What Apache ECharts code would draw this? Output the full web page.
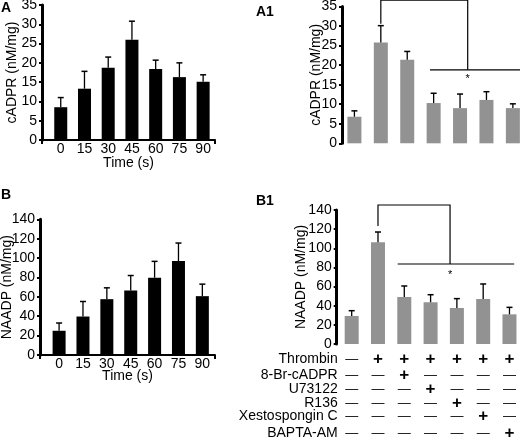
<!DOCTYPE html>
<html><head><meta charset="utf-8">
<script src="https://cdn.jsdelivr.net/npm/echarts@6/dist/echarts.min.js"></script>
<style>html,body{margin:0;padding:0;background:#fff}#c{width:520px;height:438px}</style>
</head><body><div id="c"></div>
<script>
// ---- data ----
const timeLabels = ['0','15','30','45','60','75','90'];
const cadprTime = [8.5, 13.3, 18.7, 26, 18.4, 16.3, 15.1];
const cadprTimeErr = [11, 17.8, 21.5, 30.8, 20.7, 20, 16.9];
const cadprTreat = [6.8, 25.8, 21.4, 10.3, 9.0, 11.1, 9.0];
const cadprTreatErr = [8.3, 30.1, 23.5, 12.8, 12.6, 13.2, 10.1];
const naadpTime = [25, 39.7, 57.6, 66.6, 79.7, 96.9, 60.7];
const naadpTimeErr = [33, 55.2, 69.3, 82, 96.6, 115.5, 73.1];
const naadpTreat = [29.3, 106.3, 49.1, 43.6, 37.6, 47, 31];
const naadpTreatErr = [34.8, 117, 60.6, 51.5, 47.4, 62.7, 38.3];
const treatmentNames = ['Thrombin','8-Br-cADPR','U73122','R136','Xestospongin C','BAPTA-AM'];
const treatmentMatrix = [
  [0,1,1,1,1,1,1],
  [0,0,1,0,0,0,0],
  [0,0,0,1,0,0,0],
  [0,0,0,0,1,0,0],
  [0,0,0,0,0,1,0],
  [0,0,0,0,0,0,1]
];
// significance brackets in data units [category index, value]
const cadprBracket = [[[1,30.6],[1,36.6],[4.29,36.6],[4.29,18.8]], [[2.86,18.8],[6.27,18.8]]];
const cadprStar = [4.29, 16.5];
const naadpBracket = [[[1,123.3],[1,145.2],[3.74,145.2],[3.74,83.6]], [[1.75,83.6],[6.18,83.6]]];
const naadpStar = [3.74, 72.4];

// ---- layout ----
const idx = [0,1,2,3,4,5,6];
const tableRowOffsets = [15, 31, 45, 59, 72.5, 89];
const FONT = 'Liberation Sans, Arial, sans-serif';
const GRAY = '#929292';

const chart = echarts.init(document.getElementById('c'), null, {renderer:'canvas'});

function yAx(g, max, interval, name, gap) {
  return {gridIndex:g, type:'value', min:0, max:max, interval:interval,
    axisLine:{show:true, onZero:false, lineStyle:{color:'#000', width:3}},
    axisTick:{show:true, length:3, lineStyle:{color:'#000', width:2}},
    axisLabel:{margin:5, fontSize:14, color:'#000', fontFamily:FONT},
    splitLine:{show:false},
    name:name, nameLocation:'middle', nameGap:gap, nameMoveOverlap:false,
    nameTextStyle:{fontSize:14, color:'#000', fontFamily:FONT}};
}
function timeX(g, min, max, gap) {
  return {gridIndex:g, type:'value', min:min, max:max,
    axisLine:{show:true, onZero:false, lineStyle:{color:'#000', width:2}},
    axisTick:{show:true, customValues:[min, max], length:4, lineStyle:{color:'#000', width:2}},
    axisLabel:{customValues:idx, margin:2, fontSize:14, color:'#000', fontFamily:FONT,
      formatter:v => timeLabels[Math.round(v)]},
    splitLine:{show:false},
    name:'Time (s)', nameLocation:'middle', nameGap:gap, nameMoveOverlap:false,
    nameTextStyle:{fontSize:14, color:'#000', fontFamily:FONT}};
}
function plainX(g, min, max) {
  return {gridIndex:g, type:'value', min:min, max:max, show:true,
    axisLine:{show:false, onZero:false}, axisTick:{show:false}, axisLabel:{show:false}, splitLine:{show:false}};
}
const tableAxes = treatmentNames.map((nm, r) => ({
  gridIndex:3, type:'value', min:-0.57, max:6.4, position:'bottom', offset:tableRowOffsets[r],
  axisLine:{show:false, onZero:false}, axisTick:{show:false}, splitLine:{show:false},
  axisLabel:{customValues:idx, margin:0, verticalAlign:'middle', hideOverlap:false,
    formatter:v => treatmentMatrix[r][Math.round(v)] ? '{p|+}' : '{m|—}',
    rich:{p:{fontSize:17, fontWeight:'bold', color:'#000', fontFamily:FONT},
          m:{fontSize:13, color:'#000', fontFamily:FONT}}},
  name:nm, nameLocation:'start', nameGap:-1, nameMoveOverlap:false,
  nameTextStyle:{fontSize:14, color:'#000', fontFamily:FONT, align:'right', verticalAlign:'middle'}
}));

function barSeries(xi, yi, vals, color, w) {
  return {type:'bar', xAxisIndex:xi, yAxisIndex:yi, barWidth:w,
    data:vals.map((v,i)=>[i,v]), itemStyle:{color:color}, z:2};
}
function errSeries(xi, yi, vals, errs) {
  return {type:'custom', xAxisIndex:xi, yAxisIndex:yi, clip:false, z:3,
    data:vals.map((v,i)=>[i,v,errs[i]]),
    renderItem:(p, api) => {
      const a = api.coord([api.value(0), api.value(1)]);
      const b = api.coord([api.value(0), api.value(2)]);
      return {type:'group', children:[
        {type:'line', shape:{x1:a[0], y1:a[1], x2:b[0], y2:b[1]}, style:{stroke:'#000', lineWidth:1.3}},
        {type:'line', shape:{x1:b[0]-3, y1:b[1], x2:b[0]+3, y2:b[1]}, style:{stroke:'#000', lineWidth:1.5}}
      ]};
    }};
}
function bracketSeries(xi, yi, lines, star) {
  return {type:'custom', xAxisIndex:xi, yAxisIndex:yi, clip:false, z:4,
    data:[[0]],
    renderItem:(p, api) => {
      const kids = lines.map(pts => ({type:'polyline',
        shape:{points:pts.map(q => api.coord(q))},
        style:{stroke:'#000', lineWidth:1.2, fill:null}}));
      const s = api.coord(star);
      kids.push({type:'text', style:{text:'*', x:s[0], y:s[1], align:'center', verticalAlign:'middle',
        fontSize:11, fill:'#000', fontFamily:FONT}});
      return {type:'group', children:kids};
    }};
}

const option = {
  animation:false,
  backgroundColor:'#fff',
  textStyle:{fontFamily:FONT},
  title:[
    {text:'A', left:1, top:1.5, padding:0, textStyle:{fontSize:14, fontWeight:'bold', color:'#000', fontFamily:FONT}},
    {text:'A1', left:256, top:5.5, padding:0, textStyle:{fontSize:14, fontWeight:'bold', color:'#000', fontFamily:FONT}},
    {text:'B', left:1, top:188, padding:0, textStyle:{fontSize:14, fontWeight:'bold', color:'#000', fontFamily:FONT}},
    {text:'B1', left:256, top:194.5, padding:0, textStyle:{fontSize:14, fontWeight:'bold', color:'#000', fontFamily:FONT}}
  ],
  grid:[
    {left:42, top:5, width:173, height:135, outerBoundsMode:'none'},
    {left:342, top:6.5, width:178, height:136.8, outerBoundsMode:'none'},
    {left:40, top:219.3, width:175, height:135.7, outerBoundsMode:'none'},
    {left:336.7, top:210, width:183.3, height:134, outerBoundsMode:'none'}
  ],
  xAxis:[
    timeX(0, -0.79, 6.5, 16),
    plainX(1, -0.47, 6.27),
    timeX(2, -0.8, 6.53, 14),
    plainX(3, -0.57, 6.4)
  ].concat(tableAxes),
  yAxis:[
    yAx(0, 35, 5, 'cADPR (nM/mg)', 23),
    yAx(1, 35, 5, 'cADPR (nM/mg)', 19),
    yAx(2, 140, 20, 'NAADP (nM/mg)', 26),
    yAx(3, 140, 20, 'NAADP (nM/mg)', 29)
  ],
  series:[
    barSeries(0, 0, cadprTime, '#000', 13),
    errSeries(0, 0, cadprTime, cadprTimeErr),
    barSeries(1, 1, cadprTreat, GRAY, 14),
    errSeries(1, 1, cadprTreat, cadprTreatErr),
    bracketSeries(1, 1, cadprBracket, cadprStar),
    barSeries(2, 2, naadpTime, '#000', 13),
    errSeries(2, 2, naadpTime, naadpTimeErr),
    barSeries(3, 3, naadpTreat, GRAY, 14),
    errSeries(3, 3, naadpTreat, naadpTreatErr),
    bracketSeries(3, 3, naadpBracket, naadpStar)
  ]
};
chart.setOption(option);
</script>
</body></html>
